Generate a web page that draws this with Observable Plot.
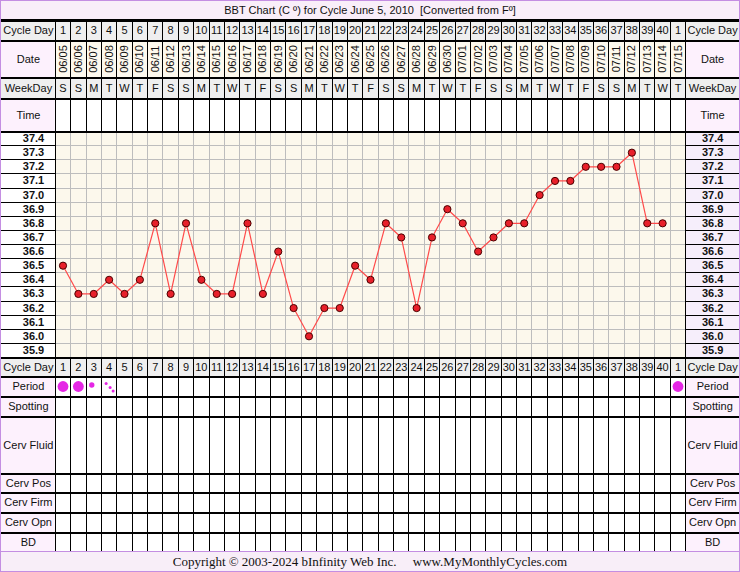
<!DOCTYPE html>
<html><head><meta charset="utf-8">
<script src="https://cdn.jsdelivr.net/npm/d3@7"></script>
<script src="https://cdn.jsdelivr.net/npm/@observablehq/plot@0.6"></script>
<style>
body{margin:0;background:#fff;}
#chart{width:740px;height:572px;box-sizing:border-box;border:1px solid #c48ee2;font-family:"Liberation Sans",Arial,sans-serif;overflow:hidden;}
#title{height:18px;line-height:18px;border-bottom:1px solid #000;background:#f9eef9;text-align:center;font-size:11px;color:#111;white-space:pre;}
#footer{height:19px;line-height:20px;border-top:1px solid #c48ee2;background:#f8eef8;text-align:center;font-family:"Liberation Serif","Times New Roman",serif;font-size:13px;color:#111;white-space:pre;}
svg{display:block;}
</style></head><body>
<div id="chart"><div id="title"></div><div id="top"></div><div id="temp"></div><div id="bottom"></div><div id="footer"></div></div>
<script>
// ---------- DATA ----------
const titleText = "BBT Chart (C º) for Cycle June 5, 2010  [Converted from Fº]";
const footerText = "Copyright © 2003-2024 bInfinity Web Inc.     www.MyMonthlyCycles.com";
const cycleDayLabels = ["1","2","3","4","5","6","7","8","9","10","11","12","13","14","15","16","17","18","19","20","21","22","23","24","25","26","27","28","29","30","31","32","33","34","35","36","37","38","39","40","1"];
const dates = ["06/05","06/06","06/07","06/08","06/09","06/10","06/11","06/12","06/13","06/14","06/15","06/16","06/17","06/18","06/19","06/20","06/21","06/22","06/23","06/24","06/25","06/26","06/27","06/28","06/29","06/30","07/01","07/02","07/03","07/04","07/05","07/06","07/07","07/08","07/09","07/10","07/11","07/12","07/13","07/14","07/15"];
const weekdays = ["S","S","M","T","W","T","F","S","S","M","T","W","T","F","S","S","M","T","W","T","F","S","S","M","T","W","T","F","S","S","M","T","W","T","F","S","S","M","T","W","T"];
const temps = [36.5,36.3,36.3,36.4,36.3,36.4,36.8,36.3,36.8,36.4,36.3,36.3,36.8,36.3,36.6,36.2,36.0,36.2,36.2,36.5,36.4,36.8,36.7,36.2,36.7,36.9,36.8,36.6,36.7,36.8,36.8,37.0,37.1,37.1,37.2,37.2,37.2,37.3,36.8,36.8];
const tempTicks = [37.4,37.3,37.2,37.1,37.0,36.9,36.8,36.7,36.6,36.5,36.4,36.3,36.2,36.1,36.0,35.9];
const periodCols = [1,2,3,4,41];
const periodFlow = ["heavy","heavy","medium","light","heavy"];
const topRows = ["Cycle Day","Date","WeekDay","Time"];
const bottomRows = ["Cycle Day","Period","Spotting","Cerv Fluid","Cerv Pos","Cerv Firm","Cerv Opn","BD"];

// ---------- LAYOUT / STYLE ----------
const W = 738;
const XDOM = [-3, 45];
const LEFTC = -1.25, RIGHTC = 43.25;
const topHeights = [20, 37, 21, 33];
const bottomHeights = [19, 20, 20, 57, 19, 20, 20, 19];
const FONT = "Liberation Sans, Arial, sans-serif";
const GRAY = "#efefef", PINK = "#fdf1fd", CREAM = "#fdf9ee", CHART = "#fcf8ec", LAV = "#f6eefb", INK = "#111";
const MAG = "#e526e5";

document.getElementById("title").textContent = titleText;
document.getElementById("footer").textContent = footerText;

const cols = cycleDayLabels.map((c, i) => ({col: i + 1, cycle: c, date: dates[i], wd: weekdays[i]}));
const colEdges = d3.range(0, cols.length + 1).map(i => i + 0.5);

function bands(heights, names) {
  let y = 0;
  return names.map((n, i) => { const r = {name: n, y1: y, y2: y + heights[i], ym: y + heights[i] / 2}; y += heights[i]; return r; });
}
const common = (h) => ({
  width: W, height: h, marginTop: 0, marginBottom: 0, marginLeft: 0, marginRight: 0,
  x: {domain: XDOM, axis: null},
  style: {fontFamily: FONT, fontSize: "11px", color: INK, background: "transparent", overflow: "hidden"}
});

// ---------- TOP TABLE ----------
const tb = bands(topHeights, topRows);
const topH = d3.sum(topHeights);
const topLabelFill = {"Cycle Day": GRAY, "Date": PINK, "WeekDay": GRAY, "Time": PINK};
const topCellFill = {"Cycle Day": GRAY, "Date": CREAM, "WeekDay": GRAY, "Time": "#fff"};
const topPlot = Plot.plot({
  ...common(topH),
  y: {domain: [0, topH], range: [0, topH], axis: null},
  marks: [
    Plot.rect(tb, {x1: XDOM[0], x2: 0.5, y1: "y1", y2: "y2", fill: d => topLabelFill[d.name]}),
    Plot.rect(tb, {x1: 41.5, x2: XDOM[1], y1: "y1", y2: "y2", fill: d => topLabelFill[d.name]}),
    Plot.rect(tb, {x1: 0.5, x2: 41.5, y1: "y1", y2: "y2", fill: d => topCellFill[d.name]}),
    Plot.ruleX(colEdges, {y1: 0, y2: topH, stroke: "#000", strokeWidth: 1, shapeRendering: "crispEdges"}),
    Plot.ruleY([0, ...tb.map(d => d.y2)], {x1: XDOM[0], x2: XDOM[1], stroke: "#000", strokeWidth: 2, shapeRendering: "crispEdges"}),
    Plot.text(tb, {x: LEFTC, y: "ym", text: "name", fill: INK, fontSize: 11}),
    Plot.text(tb, {x: RIGHTC, y: "ym", text: "name", fill: INK, fontSize: 11}),
    Plot.text(cols, {x: "col", y: tb[0].ym, text: "cycle", fill: INK, fontSize: 11}),
    Plot.text(cols, {x: "col", y: tb[1].ym, text: "date", rotate: -90, fill: INK, fontSize: 11}),
    Plot.text(cols, {x: "col", y: tb[2].ym, text: "wd", fill: INK, fontSize: 11})
  ]
});
document.getElementById("top").append(topPlot);

// ---------- TEMPERATURE CHART ----------
const tr = tempTicks.map(t => ({t, y1: t - 0.05, y2: t + 0.05, label: t.toFixed(1)}));
const tLo = d3.min(tr, d => d.y1), tHi = d3.max(tr, d => d.y2);
const tempH = 226;
const tempData = temps.map((t, i) => ({col: i + 1, t}));
const tempPlot = Plot.plot({
  ...common(tempH),
  y: {domain: [tLo, tHi], axis: null},
  marks: [
    Plot.rect(tr, {x1: XDOM[0], x2: 0.5, y1: "y1", y2: "y2", fill: "#fff"}),
    Plot.rect(tr, {x1: 41.5, x2: XDOM[1], y1: "y1", y2: "y2", fill: LAV}),
    Plot.rect(tr, {x1: 0.5, x2: 41.5, y1: "y1", y2: "y2", fill: CHART}),
    Plot.ruleX(colEdges.slice(1, -1), {y1: tLo, y2: tHi, stroke: "#bdbdbd", strokeWidth: 1, shapeRendering: "crispEdges"}),
    Plot.ruleY(tr.map(d => d.y1).slice(0, -1), {x1: 0.5, x2: 41.5, stroke: "#bdbdbd", strokeWidth: 1, shapeRendering: "crispEdges"}),
    Plot.ruleY(tr.map(d => d.y1).slice(0, -1), {x1: XDOM[0], x2: 0.5, stroke: "#000", strokeWidth: 1, shapeRendering: "crispEdges"}),
    Plot.ruleY(tr.map(d => d.y1).slice(0, -1), {x1: 41.5, x2: XDOM[1], stroke: "#000", strokeWidth: 1, shapeRendering: "crispEdges"}),
    Plot.ruleX([0.5, 41.5], {y1: tLo, y2: tHi, stroke: "#000", strokeWidth: 1, shapeRendering: "crispEdges"}),
    Plot.ruleY([tLo, tHi], {x1: XDOM[0], x2: XDOM[1], stroke: "#000", strokeWidth: 2, shapeRendering: "crispEdges"}),
    Plot.line(tempData, {x: "col", y: "t", stroke: "#ff4a4a", strokeWidth: 1.2}),
    Plot.dot(tempData, {x: "col", y: "t", r: 3.6, fill: "#e8202a", stroke: "#4a0000", strokeWidth: 1}),
    Plot.text(tr, {x: -0.92, y: "t", text: "label", fontWeight: "bold", fill: INK, fontSize: 11}),
    Plot.text(tr, {x: RIGHTC, y: "t", text: "label", fontWeight: "bold", fill: INK, fontSize: 11})
  ]
});
document.getElementById("temp").append(tempPlot);

// ---------- BOTTOM TABLE ----------
const bb = bands(bottomHeights, bottomRows);
const botH = d3.sum(bottomHeights);
const period = periodCols.map((c, i) => ({col: c, flow: periodFlow[i]}));
const rFor = {heavy: 5.4, medium: 2.7};
const py = bb[1].ym;
const lightP = period.filter(d => d.flow === "light");
const botPlot = Plot.plot({
  ...common(botH),
  y: {domain: [0, botH], range: [0, botH], axis: null},
  r: {type: "identity"},
  marks: [
    Plot.rect(bb, {x1: XDOM[0], x2: 0.5, y1: "y1", y2: "y2", fill: d => d.name === "Cycle Day" ? GRAY : PINK}),
    Plot.rect(bb, {x1: 41.5, x2: XDOM[1], y1: "y1", y2: "y2", fill: d => d.name === "Cycle Day" ? GRAY : PINK}),
    Plot.rect(bb, {x1: 0.5, x2: 41.5, y1: "y1", y2: "y2", fill: d => d.name === "Cycle Day" ? GRAY : "#fff"}),
    Plot.ruleX(colEdges, {y1: 0, y2: botH, stroke: "#000", strokeWidth: 1, shapeRendering: "crispEdges"}),
    Plot.ruleY([0, ...bb.map(d => d.y2).slice(0, -1)], {x1: XDOM[0], x2: XDOM[1], stroke: "#000", strokeWidth: 2, shapeRendering: "crispEdges"}),
    Plot.text(bb, {x: LEFTC, y: "ym", text: "name", fill: INK, fontSize: 11}),
    Plot.text(bb, {x: RIGHTC, y: "ym", text: "name", fill: INK, fontSize: 11}),
    Plot.text(cols, {x: "col", y: bb[0].ym, text: "cycle", fill: INK, fontSize: 11}),
    Plot.dot(period.filter(d => d.flow === "heavy"), {x: "col", y: py, r: d => rFor[d.flow], fill: MAG}),
    Plot.dot(period.filter(d => d.flow === "medium"), {x: "col", y: py, r: d => rFor[d.flow], fill: MAG, dx: -2, dy: -1.5}),
    Plot.dot(lightP, {x: "col", y: py, r: 1.5, fill: MAG, dx: -3, dy: -3}),
    Plot.dot(lightP, {x: "col", y: py, r: 1.5, fill: MAG, dx: 1, dy: 1}),
    Plot.dot(lightP, {x: "col", y: py, r: 1.5, fill: MAG, dx: 4, dy: 4.5})
  ]
});
document.getElementById("bottom").append(botPlot);
</script>
</body></html>
